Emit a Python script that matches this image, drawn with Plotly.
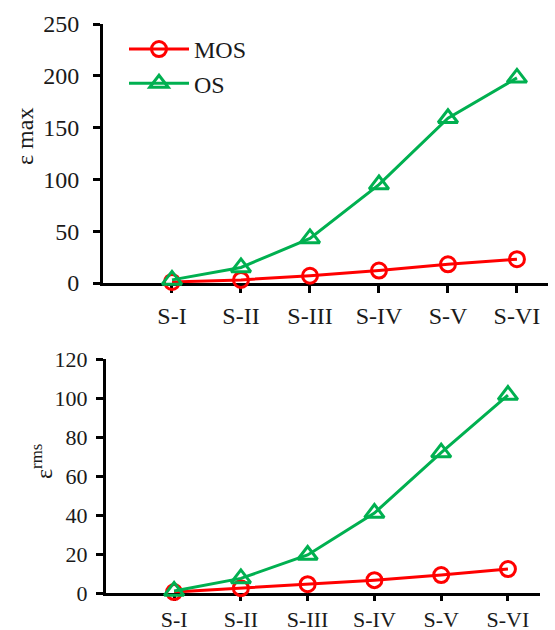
import plotly.graph_objects as go

categories = ["S-I", "S-II", "S-III", "S-IV", "S-V", "S-VI"]
mos_max = [1, 3, 7, 12, 18, 23]
os_max = [3, 15, 43, 95, 159, 198]
mos_rms = [0.5, 2.5, 4.5, 6.6, 9.2, 12.3]
os_rms = [1.0, 7.5, 19.5, 41, 72, 101.5]
y_ticks_max = [0, 50, 100, 150, 200, 250]
y_ticks_rms = [0, 20, 40, 60, 80, 100, 120]

W, H = 555, 630
FONT = "Liberation Serif"
RED = "#FF0000"
GREEN = "#00B050"
TXT = "#1a1a1a"
FS_TOP = 24
FS_BOT = 22

def px(x):
    return x / W

def py(y):
    return 1 - y / H

idx = list(range(len(categories)))

fig = go.Figure()

def add_series(y, name, color, symbol, size, xa, ya, show):
    fig.add_trace(go.Scatter(
        x=idx, y=y, name=name, mode="lines+markers",
        line=dict(color=color, width=3),
        marker=dict(symbol=symbol, size=size, color=color,
                    line=dict(color=color, width=3)),
        xaxis=xa, yaxis=ya, showlegend=show, cliponaxis=False,
    ))

add_series(mos_max, "MOS", RED, "circle-open", 15, "x", "y", True)
add_series(os_max, "OS", GREEN, "triangle-up-open", 17, "x", "y", True)
add_series(mos_rms, "MOS", RED, "circle-open", 15, "x2", "y2", False)
add_series(os_rms, "OS", GREEN, "triangle-up-open", 17, "x2", "y2", False)

def axis_common(fs, ticklen=7):
    return dict(
        showline=True, linecolor="black", linewidth=3,
        ticks="outside", ticklen=ticklen, tickwidth=3, tickcolor="black",
        showgrid=False, zeroline=False, automargin=False,
        tickfont=dict(family=FONT, size=fs, color=TXT),
        layer="below traces",
    )

fig.update_layout(
    width=W, height=H,
    margin=dict(l=0, r=0, t=0, b=0, pad=0),
    paper_bgcolor="white", plot_bgcolor="white",
    font=dict(family=FONT, size=FS_TOP, color=TXT),
    xaxis=dict(domain=[px(103), px(548)], range=[-1.0, 5.45], anchor="y",
               tickmode="array", tickvals=idx, ticktext=categories,
               ticklabelstandoff=2, **axis_common(FS_TOP)),
    yaxis=dict(domain=[py(283), py(24)], range=[0, 250], anchor="x",
               tickmode="array", tickvals=y_ticks_max,
               ticklabelstandoff=9, **axis_common(FS_TOP)),
    xaxis2=dict(domain=[px(106), px(540)], range=[-1.02, 5.48], anchor="y2",
                tickmode="array", tickvals=idx, ticktext=categories,
                ticklabelstandoff=0, **axis_common(FS_BOT, 5)),
    yaxis2=dict(domain=[py(593), py(359)], range=[0, 120], anchor="x2",
                tickmode="array", tickvals=y_ticks_rms,
                ticklabelstandoff=4, **axis_common(FS_BOT)),
    legend=dict(x=px(124), y=py(27), xanchor="left", yanchor="top",
                bgcolor="rgba(0,0,0,0)", itemwidth=60,
                font=dict(family=FONT, size=FS_TOP, color=TXT),
                tracegroupgap=0),
    annotations=[
        dict(text="ε max", x=px(25), y=py(137), xref="paper", yref="paper",
             xanchor="center", yanchor="middle",
             textangle=-90, showarrow=False,
             font=dict(family=FONT, size=FS_TOP, color=TXT)),
        dict(text="ε<sup>rms</sup>", x=px(42), y=py(462), xref="paper", yref="paper",
             xanchor="center", yanchor="middle",
             textangle=-90, showarrow=False,
             font=dict(family=FONT, size=FS_TOP, color=TXT)),
    ],
)

fig.write_html("out.html")
